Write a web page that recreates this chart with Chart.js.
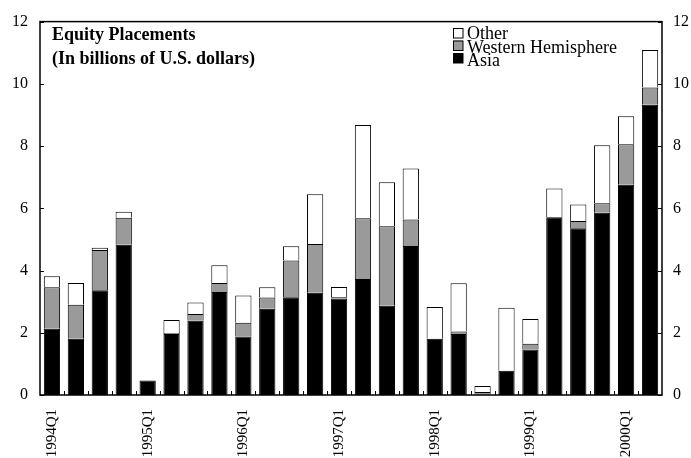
<!DOCTYPE html>
<html>
<head>
<meta charset="utf-8">
<script src="https://cdn.jsdelivr.net/npm/chart.js@4/dist/chart.umd.min.js"></script>
<style>
  html, body { margin: 0; padding: 0; background: #fff; }
  #wrap { width: 691px; height: 458px; }
</style>
</head>
<body>
<div id="wrap"><canvas id="chart" width="691" height="458"></canvas></div>
<script>
// Equity placements, billions of U.S. dollars, quarterly
const quarters = [
  '1994Q1', '1994Q2', '1994Q3', '1994Q4',
  '1995Q1', '1995Q2', '1995Q3', '1995Q4',
  '1996Q1', '1996Q2', '1996Q3', '1996Q4',
  '1997Q1', '1997Q2', '1997Q3', '1997Q4',
  '1998Q1', '1998Q2', '1998Q3', '1998Q4',
  '1999Q1', '1999Q2', '1999Q3', '1999Q4',
  '2000Q1', '2000Q2',
];
const asia    = [2.13, 1.81, 3.37, 4.83, 0.47, 1.96, 2.39, 3.31, 1.88, 2.77, 3.14, 3.29, 3.10,
                 3.73, 2.87, 4.79, 1.81, 1.96, 0.02, 0.78, 1.46, 5.71, 5.36, 5.86, 6.76, 9.33];
const western = [1.33, 1.09, 1.29, 0.87, 0, 0.03, 0.21, 0.29, 0.44, 0.36, 1.18, 1.56, 0.04,
                 1.95, 2.55, 0.85, 0, 0.08, 0.08, 0, 0.19, 0, 0.23, 0.30, 1.30, 0.55];
const other   = [0.36, 0.70, 0.07, 0.19, 0, 0.42, 0.37, 0.57, 0.88, 0.33, 0.46, 1.60, 0.33,
                 3.00, 1.42, 1.64, 1.02, 1.55, 0.19, 2.02, 0.79, 0.93, 0.53, 1.87, 0.90, 1.21];
const yTicks  = [0, 2, 4, 6, 8, 10, 12];

const SERIF = '"Liberation Serif", "Times New Roman", serif';
const GREY  = '#9a9a9a';

const legendItems = [
  { label: 'Other',              fill: '#ffffff' },
  { label: 'Western Hemisphere', fill: GREY },
  { label: 'Asia',               fill: '#000000' },
];

// frame, inward ticks, title and legend
const decor = {
  id: 'decor',
  afterDraw(chart) {
    const { ctx, chartArea: a, scales } = chart;
    const x = scales.x, y = scales.y;
    ctx.save();
    ctx.strokeStyle = '#000';
    ctx.lineWidth = 1.5;
    ctx.strokeRect(a.left, a.top, a.right - a.left, a.bottom - a.top);

    ctx.lineWidth = 1;
    ctx.beginPath();
    yTicks.forEach(v => {
      const py = Math.round(y.getPixelForValue(v)) + 0.5;
      ctx.moveTo(a.left, py);  ctx.lineTo(a.left + 4, py);
      ctx.moveTo(a.right, py); ctx.lineTo(a.right - 4, py);
    });
    for (let i = 1; i < quarters.length; i++) {
      const px = Math.round((x.getPixelForValue(i - 1) + x.getPixelForValue(i)) / 2) + 0.5;
      ctx.moveTo(px, a.bottom); ctx.lineTo(px, a.bottom - 4);
    }
    ctx.stroke();

    // title
    ctx.fillStyle = '#000';
    ctx.textAlign = 'left';
    ctx.textBaseline = 'alphabetic';
    ctx.font = 'bold 18px ' + SERIF;
    ctx.fillText('Equity Placements', 52, 40);
    ctx.fillText('(In billions of U.S. dollars)', 52, 64);

    // legend
    ctx.font = '18px ' + SERIF;
    legendItems.forEach((it, i) => {
      const by = 28 + i * 12.5;
      ctx.fillStyle = it.fill;
      ctx.fillRect(453, by, 10, 10);
      ctx.strokeStyle = '#000';
      ctx.strokeRect(453.5, by + 0.5, 9.5, 9.5);
      ctx.fillStyle = '#000';
      ctx.fillText(it.label, 467, 39 + i * 13.7);
    });
    ctx.restore();
  },
};

const barBase = { borderColor: '#000', borderWidth: 1, barPercentage: 0.68, categoryPercentage: 1 };

new Chart(document.getElementById('chart'), {
  type: 'bar',
  data: {
    labels: quarters,
    datasets: [
      { ...barBase, label: 'Asia',               data: asia,    backgroundColor: '#000000' },
      { ...barBase, label: 'Western Hemisphere', data: western, backgroundColor: GREY },
      { ...barBase, label: 'Other',              data: other,   backgroundColor: '#ffffff' },
    ],
  },
  options: {
    responsive: false,
    animation: false,
    devicePixelRatio: 1,
    layout: { padding: { top: 15, left: 0, right: 0, bottom: 0 } },
    plugins: { legend: { display: false }, tooltip: { enabled: false } },
    scales: {
      x: {
        stacked: true,
        grid: { display: false, drawTicks: false },
        border: { display: false },
        ticks: {
          autoSkip: false, maxRotation: 90, minRotation: 90, padding: 14,
          color: '#000', font: { family: SERIF, size: 15 },
          callback: (v, i) => (i % 4 === 0 ? quarters[i] : ''),
        },
        afterFit: s => { s.height = 63; },
      },
      y: {
        stacked: true, min: 0, max: 12,
        grid: { display: false, drawTicks: false },
        border: { display: false },
        ticks: { stepSize: 2, padding: 12, color: '#000', font: { family: SERIF, size: 16 } },
        afterFit: s => { s.width = 40; },
      },
      y2: {
        position: 'right', min: 0, max: 12,
        grid: { display: false, drawTicks: false },
        border: { display: false },
        ticks: { stepSize: 2, padding: 11, color: '#000', font: { family: SERIF, size: 16 } },
        afterFit: s => { s.width = 29; },
      },
    },
  },
  plugins: [decor],
});
</script>
</body>
</html>
